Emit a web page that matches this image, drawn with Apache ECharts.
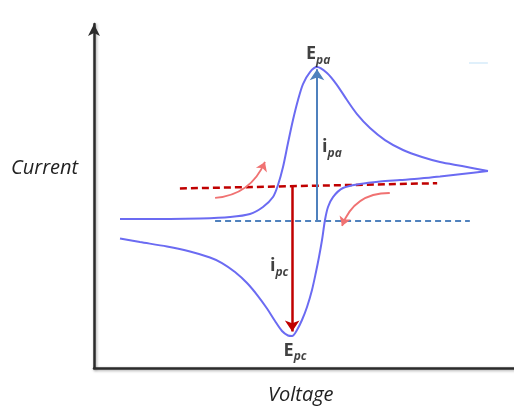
<!DOCTYPE html>
<html><head><meta charset="utf-8">
<script src="https://cdn.jsdelivr.net/npm/echarts@6/dist/echarts.min.js"></script>
<style>html,body{margin:0;padding:0;background:#fff}#c{width:514px;height:406px}</style>
</head><body><div id="c"></div>
<script>
// Cyclic voltammogram (arbitrary units: voltage 0..100, current 0..100)
const forwardV = [6.21, 18.14, 25.30, 32.46, 37.23, 40.33, 42.72, 43.91, 45.11, 46.30, 47.49, 48.69, 49.88, 51.55, 53.22, 55.61, 58.00, 60.38, 62.77, 65.87, 69.45, 73.75, 78.28, 82.58, 87.83, 94.03];
const forwardI = [42.57, 42.57, 42.71, 43.14, 44.00, 46.00, 48.86, 52.29, 57.43, 64.29, 70.86, 76.57, 81.14, 84.57, 86.00, 84.29, 80.86, 76.57, 72.57, 68.57, 65.14, 62.29, 60.29, 58.86, 57.71, 56.29];
const reverseV = [94.03, 87.83, 82.58, 77.80, 73.03, 68.26, 63.48, 59.43, 57.04, 55.85, 55.13, 54.42, 53.70, 52.98, 52.03, 50.84, 49.64, 48.45, 47.26, 46.30, 44.87, 43.20, 41.29, 39.14, 36.52, 33.65, 30.55, 27.68, 22.91, 17.42, 10.98, 6.21];
const reverseI = [56.29, 55.43, 54.71, 54.14, 53.71, 53.29, 52.57, 51.43, 48.86, 46.00, 42.29, 36.57, 31.71, 27.43, 22.29, 17.43, 13.71, 10.86, 9.14, 9.29, 10.57, 13.43, 17.00, 20.57, 24.29, 27.43, 30.00, 31.57, 33.29, 34.71, 36.00, 37.00];

// Baselines
const anodicBaseV = [28.9, 89.7];
const anodicBaseI = [42.0, 42.0];
const cathodicBaseV = [20.5, 81.9];
const cathodicBaseI = [51.3, 52.8];

// Peak current arrows
const ipaV = [53.22, 53.22];
const ipaI = [42.0, 85.4];
const ipcV = [47.3, 47.3];
const ipcI = [52.0, 10.4];

// Scan direction arrows
const scan1V = [28.9, 40.8];
const scan1I = [48.6, 58.9];
const scan2V = [70.6, 59.2];
const scan2I = [50.0, 40.6];

// Small artifact mark (top right)
const markV = [89.5, 94.0];
const markI = [87.1, 87.1];

// Labels
const labelV = [53.5, 56.8, 44.2, 48.0];
const labelI = [89.7, 63.1, 29.1, 4.9];
const labelMain = ['E', 'i', 'i', 'E'];
const labelSub = ['pa', 'pa', 'pc', 'pc'];

const zip = (a, b) => a.map((v, k) => [v, b[k]]);
const seg = (a, b) => ({ coords: zip(a, b) });

const chart = echarts.init(document.getElementById('c'), null, { renderer: 'canvas' });
const FONT = "'Open Sans', 'Liberation Sans', sans-serif";
const axisStyle = { color: '#2b2b2b', width: 2.5, shadowColor: 'rgba(0,0,0,0.35)', shadowBlur: 3, shadowOffsetX: 1, shadowOffsetY: 1 };

chart.setOption({
  animation: false,
  backgroundColor: '#fff',
  grid: { left: 94, right: 0, top: 24, bottom: 38 },
  xAxis: {
    type: 'value', min: 0, max: 100.24,
    axisLine: { show: true, symbol: 'none', lineStyle: axisStyle },
    axisTick: { show: false }, axisLabel: { show: false }, splitLine: { show: false }
  },
  yAxis: {
    type: 'value', min: 0, max: 98.3,
    axisLine: { show: true, symbol: ['none', 'arrow'], symbolSize: [9, 12], lineStyle: axisStyle },
    axisTick: { show: false }, axisLabel: { show: false }, splitLine: { show: false }
  },
  graphic: [
    { type: 'text', left: 11, top: 158, style: { text: 'Current', font: "italic 20px " + FONT, fill: '#222' } },
    { type: 'text', left: 268, top: 385, style: { text: 'Voltage', font: "italic 20px " + FONT, fill: '#222' } }
  ],
  series: [
    { type: 'line', data: zip(forwardV, forwardI), smooth: 0.3, showSymbol: false, lineStyle: { color: '#6b6bf2', width: 2 }, z: 3 },
    { type: 'line', data: zip(reverseV, reverseI), smooth: 0.3, showSymbol: false, lineStyle: { color: '#6b6bf2', width: 2 }, z: 3 },
    { type: 'lines', coordinateSystem: 'cartesian2d', data: [seg(anodicBaseV, anodicBaseI)],
      lineStyle: { color: '#4f81bd', width: 2, type: [6, 4], opacity: 1 }, z: 2 },
    { type: 'lines', coordinateSystem: 'cartesian2d', data: [seg(cathodicBaseV, cathodicBaseI)],
      lineStyle: { color: '#c00000', width: 2.5, type: [7, 4], opacity: 1 }, z: 2 },
    { type: 'lines', coordinateSystem: 'cartesian2d', data: [seg(ipaV, ipaI)], symbol: ['none', 'arrow'], symbolSize: [9, 11],
      lineStyle: { color: '#4f81bd', width: 2, opacity: 1 }, z: 4 },
    { type: 'lines', coordinateSystem: 'cartesian2d', data: [seg(ipcV, ipcI)], symbol: ['none', 'arrow'], symbolSize: [9, 11],
      lineStyle: { color: '#c00000', width: 2.5, opacity: 1 }, z: 4 },
    { type: 'lines', coordinateSystem: 'cartesian2d', data: [seg(scan1V, scan1I)], symbol: ['none', 'arrow'], symbolSize: [8, 9],
      lineStyle: { color: '#f07272', width: 1.8, opacity: 1, curveness: -0.3 }, z: 4 },
    { type: 'lines', coordinateSystem: 'cartesian2d', data: [seg(scan2V, scan2I)], symbol: ['none', 'arrow'], symbolSize: [8, 9],
      lineStyle: { color: '#f07272', width: 1.8, opacity: 1, curveness: -0.35 }, z: 4 },
    { type: 'lines', coordinateSystem: 'cartesian2d', data: [seg(markV, markI)],
      lineStyle: { color: '#b9def5', width: 1.5, opacity: 0.6 }, z: 1 },
    { type: 'scatter', symbolSize: 0, z: 6,
      data: labelV.map((v, k) => ({ value: [v, labelI[k]], name: labelMain[k] + '|' + labelSub[k] })),
      label: {
        show: true, position: 'inside',
        formatter: p => '{m|' + p.name.split('|')[0] + '}{s|' + p.name.split('|')[1] + '}',
        rich: {
          m: { fontFamily: FONT, fontWeight: 'bold', fontSize: 18, color: '#111' },
          s: { fontFamily: FONT, fontWeight: 'bold', fontStyle: 'italic', fontSize: 12, color: '#111', padding: [12, 0, 0, 0] }
        }
      }
    }
  ]
});
</script></body></html>
